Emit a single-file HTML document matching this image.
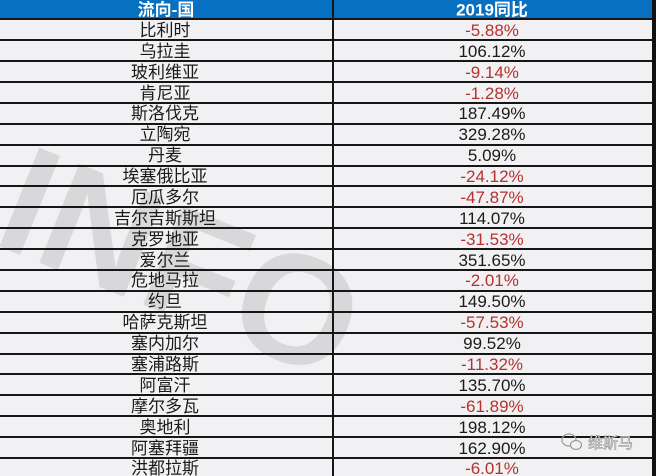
<!DOCTYPE html>
<html>
<head>
<meta charset="utf-8">
<style>
html,body{margin:0;padding:0;background:#f1f1f3;}
body{width:656px;height:476px;overflow:hidden;position:relative;}
svg{display:block;position:absolute;left:0;top:0;}
text{font-family:"Liberation Sans","Noto Sans CJK SC",sans-serif;}
</style>
</head>
<body>
<svg width="656" height="476" viewBox="0 0 656 476" xmlns="http://www.w3.org/2000/svg">
  <rect x="0" y="0" width="656" height="476" fill="#f1f1f3"/>
  <!-- watermark -->
  <text x="182" y="316" transform="rotate(22 182 261)" font-size="155" font-weight="bold" fill="#d8d8da" text-anchor="middle" style="font-family:'Liberation Sans',sans-serif">INFO</text>
  <!-- header -->
  <rect x="0" y="0" width="652" height="19" fill="#0870c0"/>
  <!-- right dark band -->
  <rect x="652" y="0" width="4" height="476" fill="#111"/>
  <!-- horizontal lines -->
  <g fill="#161616">
    <rect x="0" y="18" width="652" height="2"/>
    <rect x="0" y="39" width="652" height="2"/>
    <rect x="0" y="60" width="652" height="2"/>
    <rect x="0" y="81" width="652" height="2"/>
    <rect x="0" y="102" width="652" height="2"/>
    <rect x="0" y="123" width="652" height="2"/>
    <rect x="0" y="144" width="652" height="2"/>
    <rect x="0" y="165" width="652" height="2"/>
    <rect x="0" y="185" width="652" height="2"/>
    <rect x="0" y="206" width="652" height="2"/>
    <rect x="0" y="227" width="652" height="2"/>
    <rect x="0" y="248" width="652" height="2"/>
    <rect x="0" y="269" width="652" height="2"/>
    <rect x="0" y="290" width="652" height="2"/>
    <rect x="0" y="311" width="652" height="2"/>
    <rect x="0" y="332" width="652" height="2"/>
    <rect x="0" y="353" width="652" height="2"/>
    <rect x="0" y="373" width="652" height="2"/>
    <rect x="0" y="394" width="652" height="2"/>
    <rect x="0" y="415" width="652" height="2"/>
    <rect x="0" y="436" width="652" height="2"/>
    <rect x="0" y="457" width="652" height="2"/>
  </g>
  <!-- vertical divider -->
  <rect x="332" y="0" width="2" height="476" fill="#161616"/>

  <!-- header text -->
  <text x="166" y="15.5" font-size="17" font-weight="bold" fill="#ffffff" text-anchor="middle">流向-国</text>
  <text x="492" y="15.5" font-size="17" font-weight="bold" fill="#ffffff" text-anchor="middle">2019同比</text>

  <!-- left column -->
  <g font-size="17" fill="#1a1a1a" text-anchor="middle">
    <text x="165" y="36">比利时</text>
    <text x="165" y="57">乌拉圭</text>
    <text x="165" y="78">玻利维亚</text>
    <text x="165" y="99">肯尼亚</text>
    <text x="165" y="119">斯洛伐克</text>
    <text x="165" y="140">立陶宛</text>
    <text x="165" y="161">丹麦</text>
    <text x="165" y="182">埃塞俄比亚</text>
    <text x="165" y="203">厄瓜多尔</text>
    <text x="165" y="224">吉尔吉斯斯坦</text>
    <text x="165" y="245">克罗地亚</text>
    <text x="165" y="266">爱尔兰</text>
    <text x="165" y="286">危地马拉</text>
    <text x="165" y="307">约旦</text>
    <text x="165" y="328">哈萨克斯坦</text>
    <text x="165" y="349">塞内加尔</text>
    <text x="165" y="370">塞浦路斯</text>
    <text x="165" y="391">阿富汗</text>
    <text x="165" y="412">摩尔多瓦</text>
    <text x="165" y="433">奥地利</text>
    <text x="165" y="454">阿塞拜疆</text>
    <text x="165" y="474">洪都拉斯</text>
  </g>

  <!-- right column -->
  <g font-size="17" text-anchor="middle" style="font-family:'Liberation Sans',sans-serif">
    <text x="492" y="36" fill="#b5312f">-5.88%</text>
    <text x="492" y="57" fill="#1a1a1a">106.12%</text>
    <text x="492" y="78" fill="#b5312f">-9.14%</text>
    <text x="492" y="99" fill="#b5312f">-1.28%</text>
    <text x="492" y="119" fill="#1a1a1a">187.49%</text>
    <text x="492" y="140" fill="#1a1a1a">329.28%</text>
    <text x="492" y="161" fill="#1a1a1a">5.09%</text>
    <text x="492" y="182" fill="#b5312f">-24.12%</text>
    <text x="492" y="203" fill="#b5312f">-47.87%</text>
    <text x="492" y="224" fill="#1a1a1a">114.07%</text>
    <text x="492" y="245" fill="#b5312f">-31.53%</text>
    <text x="492" y="266" fill="#1a1a1a">351.65%</text>
    <text x="492" y="286" fill="#b5312f">-2.01%</text>
    <text x="492" y="307" fill="#1a1a1a">149.50%</text>
    <text x="492" y="328" fill="#b5312f">-57.53%</text>
    <text x="492" y="349" fill="#1a1a1a">99.52%</text>
    <text x="492" y="370" fill="#b5312f">-11.32%</text>
    <text x="492" y="391" fill="#1a1a1a">135.70%</text>
    <text x="492" y="412" fill="#b5312f">-61.89%</text>
    <text x="492" y="433" fill="#1a1a1a">198.12%</text>
    <text x="492" y="454" fill="#1a1a1a">162.90%</text>
    <text x="492" y="474" fill="#b5312f">-6.01%</text>
  </g>

  <!-- wechat-like logo -->
  <g fill="none" stroke="#9a9a9a" stroke-width="1.2">
    <ellipse cx="569" cy="440" rx="7" ry="6"/>
    <ellipse cx="576" cy="445" rx="5.5" ry="4.5" fill="#f1f1f3"/>
  </g>
  <text x="588" y="448" font-size="15" fill="#ffffff" stroke="#8c8c8c" stroke-width="0.6" style="font-family:'Noto Sans CJK SC',sans-serif">维斯马</text>
</svg>
</body>
</html>
